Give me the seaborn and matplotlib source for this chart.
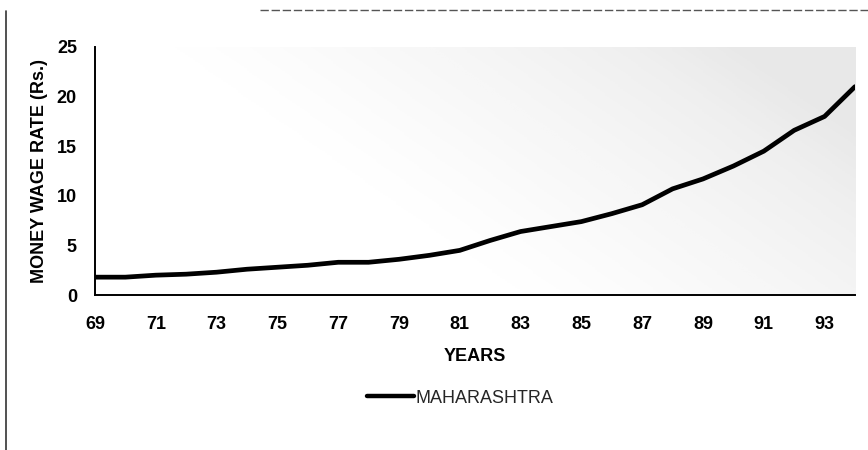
import numpy as np
import pandas as pd
import matplotlib
matplotlib.use("Agg")
import matplotlib.pyplot as plt
from matplotlib.lines import Line2D
import seaborn as sns

# ---- data ----
years = [69, 70, 71, 72, 73, 74, 75, 76, 77, 78, 79, 80, 81,
         82, 83, 84, 85, 86, 87, 88, 89, 90, 91, 92, 93, 94]
wage = [1.8, 1.8, 2.0, 2.1, 2.3, 2.6, 2.8, 3.0, 3.3, 3.3, 3.6, 4.0, 4.5,
        5.5, 6.4, 6.9, 7.4, 8.2, 9.1, 10.7, 11.7, 13.0, 14.5, 16.6, 18.0, 21.0]
series_name = "MAHARASHTRA"
yticks = [0, 5, 10, 15, 20, 25]
xlabel_years = [69, 71, 73, 75, 77, 79, 81, 83, 85, 87, 89, 91, 93]
x_title = "YEARS"
y_title = "MONEY WAGE RATE (Rs.)"

df = pd.DataFrame({"year": years, "wage": wage, "state": series_name})

sns.set_style("white")
plt.rcParams["font.family"] = ["Liberation Sans", "DejaVu Sans"]

fig = plt.figure(figsize=(8.68, 4.5), dpi=100)
ax = fig.add_axes([0.1094, 0.3444, 0.8756, 0.5512])

# faint halftone-like background shading (scanned gradient fill)
gx, gy = np.meshgrid(np.linspace(0, 1, 300), np.linspace(0, 1, 150))
shade = np.clip((gx - 0.35) * 1.3 + (0.6 - gy) * 0.6, 0, 1) ** 1.2
ax.imshow(shade, extent=[0, 1, 0, 1], transform=ax.transAxes, origin="upper",
          cmap="Greys", vmin=0, vmax=6, aspect="auto", zorder=0)

sns.lineplot(data=df, x="year", y="wage", hue="state", palette=["black"],
             linewidth=3.4, ax=ax, legend=False, zorder=3)

ax.set_xlim(69, 94)
ax.set_ylim(0, 25)
ax.set_xticks(years)
ax.set_xticklabels([str(y) if y in xlabel_years else "" for y in years])
ax.set_yticks(yticks)
ax.set_yticklabels([str(v) for v in yticks])

for s in ["top", "right"]:
    ax.spines[s].set_visible(False)
for s in ["left", "bottom"]:
    ax.spines[s].set_color("black")
    ax.spines[s].set_linewidth(1.4)

ax.tick_params(axis="x", direction="inout", length=10, width=1.3, color="black",
               labelsize=13, pad=10, labelcolor="black")
ax.tick_params(axis="y", length=0, labelsize=13, pad=13, labelcolor="black")
for lab in ax.get_xticklabels() + ax.get_yticklabels():
    lab.set_fontweight("bold")

ax.set_xlabel(x_title, fontsize=13, fontweight="bold", labelpad=11, color="black")
ax.set_ylabel(y_title, fontsize=13, fontweight="bold", labelpad=6, color="black")

handle = Line2D([0], [0], color="black", linewidth=3.2)
fig.legend([handle], [series_name], loc="center", bbox_to_anchor=(0.53, 0.115),
           frameon=False, fontsize=13, handlelength=2.6, handletextpad=0.1)

# scanned page border
fig.add_artist(Line2D([0.007, 0.007], [0.0, 0.975], transform=fig.transFigure,
                      color="#333333", linewidth=1.2))
fig.add_artist(Line2D([0.30, 1.0], [0.978, 0.978], transform=fig.transFigure,
                      color="#555555", linewidth=1.0, linestyle=(0, (6, 2))))

fig.savefig("out.png", dpi=100, facecolor="white")
